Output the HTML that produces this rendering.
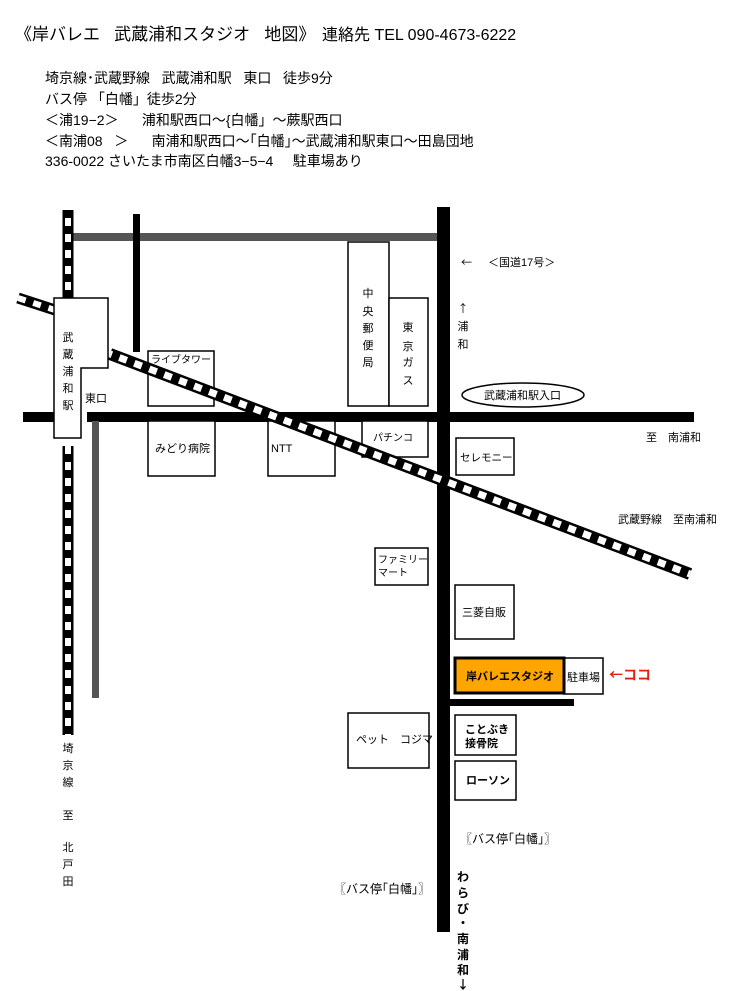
<!DOCTYPE html>
<html><head><meta charset="utf-8"><style>
html,body{margin:0;padding:0;background:#fff;}
svg{display:block;}
text{font-family:"Liberation Sans","Noto Sans CJK JP",sans-serif;fill:#000;white-space:pre;}
.cjk{font-family:"Noto Sans CJK JP",sans-serif;}
</style></head><body>
<svg width="730" height="991" viewBox="0 0 730 991" xmlns="http://www.w3.org/2000/svg" xml:space="preserve">
<!-- header text -->
<text x="15" y="40" font-size="17">《岸バレエ   武蔵浦和スタジオ   地図》</text>
<text x="322" y="40" font-size="16">連絡先 TEL 090-4673-6222</text>
<g font-size="14">
<text x="45" y="83">埼京線･武蔵野線   武蔵浦和駅   東口   徒歩9分</text>
<text x="45" y="104">バス停 「白幡」徒歩2分</text>
<text x="45" y="125">＜浦19−2＞      浦和駅西口〜{白幡」〜蕨駅西口</text>
<text x="45" y="146">＜南浦08   ＞      南浦和駅西口〜｢白幡｣〜武蔵浦和駅東口〜田島団地</text>
<text x="45" y="166">336-0022 さいたま市南区白幡3−5−4     駐車場あり</text>
</g>

<!-- roads -->
<rect x="73" y="233" width="364" height="8" fill="#555"/>
<rect x="133" y="214" width="7" height="138" fill="#000"/>
<rect x="23" y="412" width="32" height="10" fill="#000"/>
<rect x="87" y="412" width="607" height="10" fill="#000"/>
<rect x="92" y="421" width="7" height="277" fill="#555"/>
<rect x="437" y="207" width="13" height="725" fill="#000"/>
<rect x="450" y="699" width="124" height="7" fill="#000"/>

<!-- buildings -->
<g fill="#fff" stroke="#000" stroke-width="1.5">
<rect x="148" y="351" width="66" height="55"/>
<rect x="148" y="421" width="67" height="55"/>
<rect x="268" y="421" width="67" height="55"/>
<rect x="348" y="242" width="41" height="164"/>
<rect x="389" y="298" width="39" height="108"/>
<rect x="362" y="421" width="66" height="36"/>
<rect x="456" y="438" width="58" height="37"/>
<rect x="375" y="548" width="53" height="37"/>
<rect x="455" y="585" width="59" height="54"/>
<rect x="564" y="658" width="39" height="36"/>
<rect x="348" y="713" width="81" height="55"/>
<rect x="455" y="715" width="61" height="40"/>
<rect x="455" y="761" width="61" height="39"/>
</g>
<rect x="455" y="658" width="109" height="35" fill="#FFA500" stroke="#000" stroke-width="3"/>
<ellipse cx="523" cy="395" rx="61" ry="12" fill="#fff" stroke="#000" stroke-width="1.5"/>

<!-- rails -->
<g>
<line x1="68" y1="210" x2="68" y2="298" stroke="#000" stroke-width="11"/>
<line x1="68" y1="210" x2="68" y2="298" stroke="#fff" stroke-width="6" stroke-dasharray="8 8" stroke-dashoffset="-8"/>
<line x1="68" y1="446" x2="68" y2="735" stroke="#000" stroke-width="11"/>
<line x1="68" y1="446" x2="68" y2="735" stroke="#fff" stroke-width="6" stroke-dasharray="8 8"/>
<line x1="18" y1="298" x2="55" y2="310" stroke="#000" stroke-width="11"/>
<line x1="18" y1="298" x2="55" y2="310" stroke="#fff" stroke-width="6" stroke-dasharray="8 8"/>
<line x1="110" y1="354" x2="690" y2="574" stroke="#000" stroke-width="12"/>
<line x1="110" y1="354" x2="690" y2="574" stroke="#fff" stroke-width="7" stroke-dasharray="8 8" stroke-dashoffset="-26"/>
</g>

<!-- station -->
<polygon points="54,298 108,298 108,368 81,368 81,438 54,438" fill="#fff" stroke="#000" stroke-width="1.5"/>
<g font-size="11" text-anchor="middle">
<text x="68" y="341">武</text><text x="68" y="358">蔵</text><text x="68" y="375">浦</text><text x="68" y="392">和</text><text x="68" y="409">駅</text>
</g>
<text x="85" y="402" font-size="11">東口</text>

<!-- labels -->
<g font-size="11">
<text x="151" y="363" font-size="10">ライブタワー</text>
<text x="155" y="452">みどり病院</text>
<text x="271" y="452">NTT</text>
<text x="373" y="441" font-size="10">パチンコ</text>
<text x="460" y="461" font-size="10.5">セレモニー</text>
<text x="378" y="563" font-size="10">ファミリー</text>
<text x="378" y="576" font-size="10">マート</text>
<text x="462" y="616">三菱自販</text>
<text x="466" y="680" font-weight="bold">岸バレエスタジオ</text>
<text x="567" y="681">駐車場</text>
<text x="356" y="743">ペット　コジマ</text>
<text x="465" y="733" font-weight="bold">ことぶき</text>
<text x="465" y="747" font-weight="bold">接骨院</text>
<text x="466" y="784" font-weight="bold">ローソン</text>
<text x="484" y="399">武蔵浦和駅入口</text>
<text x="646" y="441">至　南浦和</text>
<text x="618" y="523">武蔵野線　至南浦和</text>
<text x="461" y="266" class="cjk">←</text>
<text x="488" y="266">＜国道17号＞</text>
<text x="460" y="843" font-size="12">〖バス停｢白幡｣〗</text>
<text x="334" y="893" font-size="12">〖バス停｢白幡｣〗</text>
</g>
<text x="609" y="680" font-size="14" font-weight="bold" class="cjk" style="fill:#e02010">←ココ</text>
<g font-size="11" text-anchor="middle">
<text x="368" y="297">中</text><text x="368" y="315">央</text><text x="368" y="332">郵</text><text x="368" y="349">便</text><text x="368" y="366">局</text>
<text x="408" y="331">東</text><text x="408" y="350">京</text><text x="408" y="366">ガ</text><text x="408" y="384">ス</text>
<text x="463" y="312" class="cjk">↑</text><text x="463" y="330">浦</text><text x="463" y="348">和</text>
<text x="68" y="752">埼</text><text x="68" y="769">京</text><text x="68" y="786">線</text>
<text x="68" y="819">至</text><text x="68" y="851">北</text><text x="68" y="868">戸</text><text x="68" y="885">田</text>
</g>
<g font-size="12" text-anchor="middle" font-weight="bold">
<text x="463" y="881">わ</text><text x="463" y="897">ら</text><text x="463" y="913">び</text><text x="463" y="927">・</text><text x="463" y="943">南</text><text x="463" y="959">浦</text><text x="463" y="974">和</text><text x="463" y="989" class="cjk">↓</text>
</g>
</svg>
</body></html>
